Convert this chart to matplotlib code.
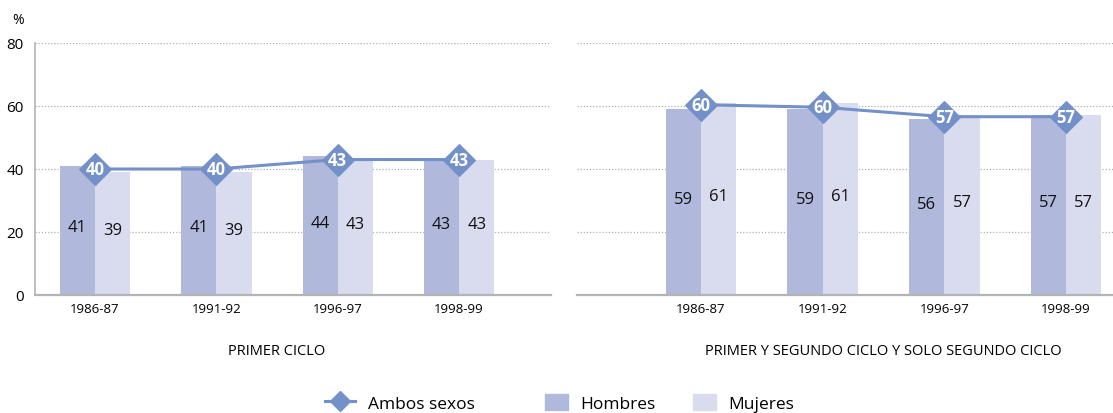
import numpy as np
import matplotlib
matplotlib.use('Agg')
import matplotlib.pyplot as plt
from matplotlib.lines import Line2D
from matplotlib.patches import Patch
import matplotlib.transforms as mtransforms

plt.rcParams['font.family'] = ['Open Sans', 'DejaVu Sans']

cursos = ['1986-87', '1991-92', '1996-97', '1998-99']
titulos = ['PRIMER CICLO', 'PRIMER Y SEGUNDO CICLO Y SOLO SEGUNDO CICLO']
series = ['Ambos sexos', 'Hombres', 'Mujeres']

hombres_1 = [41, 41, 44, 43]
mujeres_1 = [39, 39, 43, 43]
ambos_1 = [40, 40, 43, 43]

hombres_2 = [59, 59, 56, 57]
mujeres_2 = [61, 61, 57, 57]
ambos_2 = [60.4, 59.6, 56.6, 56.6]

c_hom = '#b0b9dc'
c_muj = '#d9dcef'
c_amb = '#7390c9'
c_grid = '#b0b0b0'
c_axis = '#b4b4b4'

fig = plt.figure(figsize=(11.13, 4.14), dpi=100)
ax1 = fig.add_axes([35/1113, 1-296/414, (551-35)/1113, 252/414])
ax2 = fig.add_axes([577/1113, 1-296/414, (1113-577)/1113, 252/414])

def panel(ax, hom, muj, amb, xlim, titulo):
    x = np.arange(len(cursos))
    w = 0.29
    ax.bar(x - w/2, hom, w, color=c_hom, zorder=2)
    ax.bar(x + w/2, muj, w, color=c_muj, zorder=2)
    for xi, h, m in zip(x, hom, muj):
        ax.text(xi - w/2, h/2 + 1, '%d' % round(h), ha='center', va='center', fontsize=12, color='#111111', zorder=4)
        ax.text(xi + w/2, m/2 + 1, '%d' % round(m), ha='center', va='center', fontsize=12, color='#111111', zorder=4)
    ax.plot(x, amb, color=c_amb, lw=2.2, marker='D', ms=16.5, mec=c_amb, mew=0.8, zorder=5)
    for xi, a in zip(x, amb):
        ax.text(xi, a, '%d' % round(a), ha='center', va='center', fontsize=12, fontweight='bold', color='white', zorder=6)
    ax.set_xlim(*xlim)
    ax.set_ylim(0, 80)
    ax.set_yticks([0, 20, 40, 60, 80])
    ax.set_xticks(x)
    ax.set_xticklabels(cursos, fontsize=9.5)
    ax.tick_params(length=0, pad=5)
    ax.yaxis.grid(True, linestyle=(0, (1, 1.5)), color=c_grid, lw=0.9, zorder=0)
    ax.set_axisbelow(True)
    for s in ['top', 'right']:
        ax.spines[s].set_visible(False)
    ax.spines['bottom'].set_color(c_axis)
    ax.spines['bottom'].set_linewidth(1.6)
    ax.spines['left'].set_color(c_axis)
    ax.spines['left'].set_linewidth(1.2)
    trans = mtransforms.blended_transform_factory(ax.transData, fig.transFigure)
    ax.text(1.5, 1 - 352/414, titulo, transform=trans, ha='center', va='center', fontsize=10.5)

panel(ax1, hombres_1, mujeres_1, ambos_1, (-0.494, 3.757), titulos[0])
panel(ax2, hombres_2, mujeres_2, ambos_2, (-1.02, 3.387), titulos[1])

ax1.tick_params(axis='y', labelsize=11, pad=8)
ax2.spines['left'].set_visible(False)
ax2.set_yticklabels([])

fig.text(12/1113, 1 - 20/414, '%', fontsize=10, ha='left', va='center')

# leyenda: una entrada por legend para fijar posiciones
handles = [
    Line2D([], [], color=c_amb, lw=2.2, marker='D', ms=10, mec=c_amb),
    Patch(color=c_hom),
    Patch(color=c_muj),
]
x_leg = [325, 545, 693]
h_len = [1.75, 1.35, 1.35]
for h, lab, xl, hl in zip(handles, series, x_leg, h_len):
    fig.legend([h], [lab], loc='center left', bbox_to_anchor=(xl/1113, 1 - 404/414),
               frameon=False, fontsize=12.5, handlelength=hl, handleheight=1.0,
               handletextpad=0.7, borderpad=0, borderaxespad=0)

fig.savefig('out.png', dpi=100)
